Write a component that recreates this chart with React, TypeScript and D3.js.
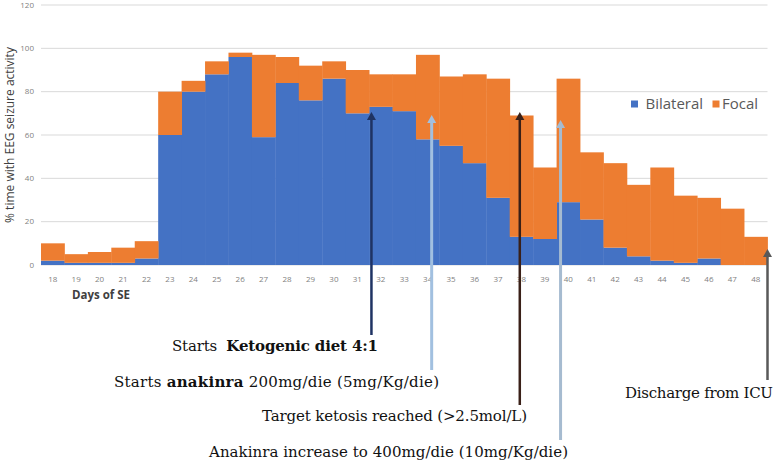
import React from "react";
import * as d3 from "d3";

const days = [18, 19, 20, 21, 22, 23, 24, 25, 26, 27, 28, 29, 30, 31, 32, 33, 34, 35, 36, 37, 38, 39, 40, 41, 42, 43, 44, 45, 46, 47, 48];
const bilateral = [2, 1, 1, 1, 3, 60, 80, 88, 96, 59, 84, 76, 86, 70, 73, 71, 58, 55, 47, 31, 13, 12, 29, 21, 8, 4, 2, 1, 3, 0, 0];
const focal = [8, 4, 5, 7, 8, 20, 5, 6, 2, 38, 12, 16, 8, 20, 15, 17, 39, 32, 41, 55, 56, 33, 57, 31, 39, 33, 43, 31, 28, 26, 13];
const yTicks = [0, 20, 40, 60, 80, 100, 120];
const seriesNames = ["Bilateral", "Focal"];
const seriesColors = ["#4472c4", "#ed7d31"];

// annotations: arrow day position (continuous, day centre = integer), arrow tip value
const annDay = [31.6, 34.17, 37.93, 39.67, 48.5];
const annTip = [70.6, 69.2, 70.6, 66.9, 7.4];
const annColors = ["#1f3363", "#a2c0e0", "#3a2018", "#a6bbd0", "#595959"];

const W = 778;
const H = 468;
const left = 41;
const right = 767.5;
const top = 5;
const bottom = 265;

export default function App() {
  const x = d3.scaleBand<number>().domain(days).range([left, right]).padding(0);
  const y = d3.scaleLinear().domain([0, 120]).range([bottom, top]);
  const bw = x.bandwidth();
  const xc = (d: number) => left + (d - days[0] + 0.5) * bw;

  const stackData = days.map((d, i) => ({ day: d, Bilateral: bilateral[i], Focal: focal[i] }));
  const stacked = d3.stack<any>().keys(seriesNames)(stackData);

  const annBottoms = [335, 370, 405, 440, 380];
  const serif = "'DejaVu Serif', 'Liberation Serif', serif";
  const fs = 15;

  return (
    <svg width={W} height={H} style={{ position: "absolute", left: 0, top: 0, background: "#fff" }}>
      {yTicks.map((t) => (
        <g key={t}>
          <line x1={left} x2={right} y1={y(t)} y2={y(t)} stroke="#d9d9d9" strokeWidth={1} />
          <text x={34} y={y(t)} dy="0.35em" textAnchor="end" fontSize={8} fill="#7f7f7f" fontFamily="'Open Sans', sans-serif">
            {t}
          </text>
        </g>
      ))}
      {stacked.map((s, si) => (
        <g key={s.key} fill={seriesColors[si]}>
          {s.map((p, i) => (
            <rect
              key={i}
              x={x(days[i])}
              width={bw + 0.4}
              y={y(p[1])}
              height={Math.max(0, y(p[0]) - y(p[1]))}
            />
          ))}
        </g>
      ))}
      {days.map((d) => (
        <text key={d} x={(x(d) as number) + bw / 2} y={279} dy="0.35em" textAnchor="middle" fontSize={8} fill="#7f7f7f" fontFamily="'Open Sans', sans-serif">
          {d}
        </text>
      ))}
      <text
        transform={`translate(14,${(top + bottom) / 2}) rotate(-90)`}
        textAnchor="middle"
        fontSize={12}
        fill="#404040"
        fontFamily="'Open Sans', sans-serif"
      >
        % time with EEG seizure activity
      </text>
      <text x={72} y={299} fontSize={11.5} fontWeight="bold" fill="#404040" fontFamily="'Open Sans', sans-serif">
        Days of SE
      </text>
      {/* legend */}
      <rect x={631} y={100.5} width={7} height={7} fill={seriesColors[0]} />
      <text x={645.5} y={104} dy="0.35em" fontSize={15} fill="#595959" fontFamily="'Open Sans', sans-serif">
        {seriesNames[0]}
      </text>
      <rect x={712.5} y={100.5} width={7} height={7} fill={seriesColors[1]} />
      <text x={722} y={104} dy="0.35em" fontSize={15} fill="#595959" fontFamily="'Open Sans', sans-serif">
        {seriesNames[1]}
      </text>
      {/* arrows */}
      {annDay.map((d, i) => {
        const ax = xc(d);
        const ty = y(annTip[i]);
        const light = i === 1 || i === 3;
        const sw = light ? 3 : 2.5;
        return (
          <g key={i}>
            <line x1={ax} x2={ax} y1={annBottoms[i]} y2={ty + 6} stroke={annColors[i]} strokeWidth={sw} />
            <path d={`M${ax},${ty} L${ax - 4.5},${ty + 8} L${ax + 4.5},${ty + 8} Z`} fill={annColors[i]} />
          </g>
        );
      })}
      <text x={172} y={350.5} fontSize={fs} fill="#111" fontFamily={serif} textLength={206} lengthAdjust="spacing">
        Starts{"\u00a0 "}<tspan fontWeight="bold">Ketogenic diet 4:1</tspan>
      </text>
      <text x={114} y={387} fontSize={fs} fill="#111" fontFamily={serif} textLength={325} lengthAdjust="spacing">
        Starts <tspan fontWeight="bold">anakinra</tspan> 200mg/die (5mg/Kg/die)
      </text>
      <text x={262} y={420.5} fontSize={fs} fill="#111" fontFamily={serif} textLength={265} lengthAdjust="spacing">
        Target ketosis reached (&gt;2.5mol/L)
      </text>
      <text x={209} y={457} fontSize={fs} fill="#111" fontFamily={serif} textLength={359} lengthAdjust="spacing">
        Anakinra increase to 400mg/die (10mg/Kg/die)
      </text>
      <text x={625} y={398} fontSize={fs} fill="#111" fontFamily={serif} textLength={148} lengthAdjust="spacing">
        Discharge from ICU
      </text>
    </svg>
  );
}
